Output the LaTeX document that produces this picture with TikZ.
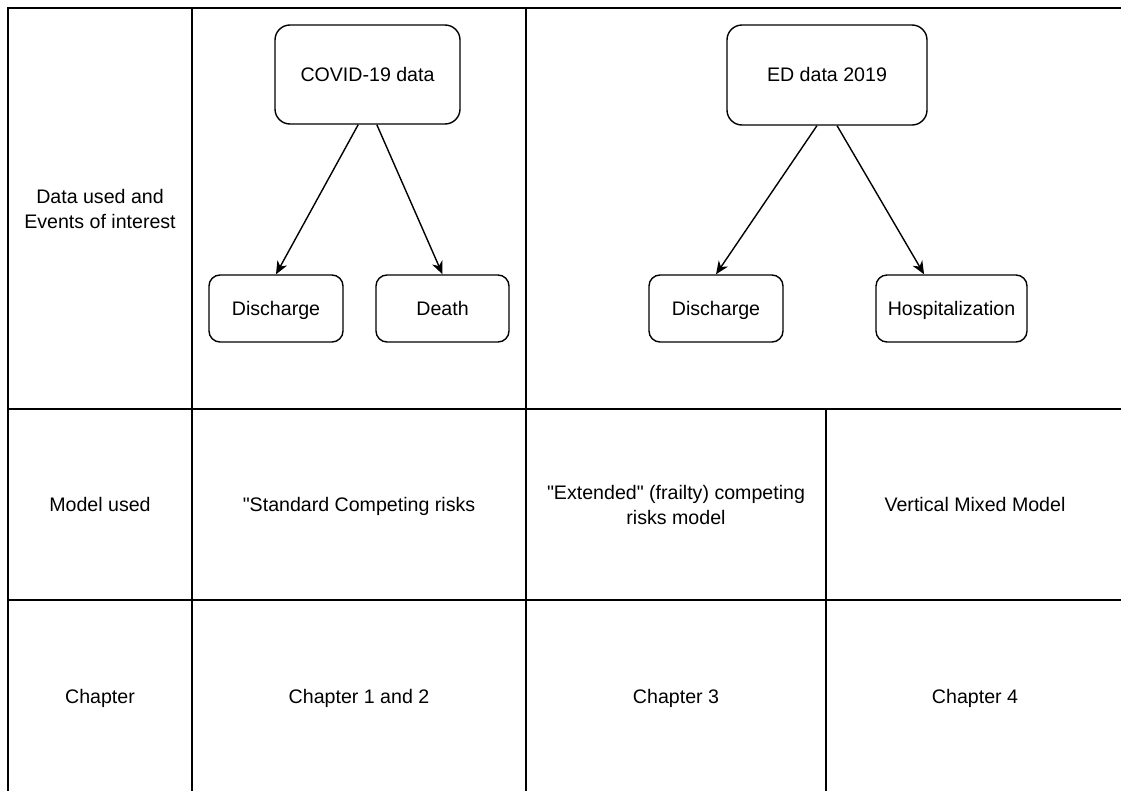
\documentclass[tikz,border=0pt]{standalone}
\usepackage{fontspec}
\setmainfont{Liberation Sans}[Ligatures=TeXOff]
\usetikzlibrary{arrows.meta,calc}
\begin{document}
\begin{tikzpicture}[x=1pt,y=-1pt,
  gridline/.style={line width=1.5pt, line cap=rect},
  lbl/.style={align=center, inner sep=0pt, font=\fontsize{19.6}{25}\selectfont},
  one/.style={text height=17.7pt, text depth=4.2pt},
  bigbox/.style={lbl, one, draw, line width=1.4pt, rounded corners=15pt},
  smallbox/.style={lbl, one, draw, line width=1.4pt, rounded corners=11pt, minimum height=67pt},
  conn/.style={line width=1.4pt, -{Stealth[length=13pt,width=11pt,inset=4pt]}}]
\useasboundingbox (0,0) rectangle (1121,790);
% table grid
\draw[gridline] (1125,8) -- (8,8) -- (8,795);
\draw[gridline] (8,409) -- (1125,409);
\draw[gridline] (8,600) -- (1125,600);
\draw[gridline] (192,8) -- (192,795);
\draw[gridline] (526,8) -- (526,795);
\draw[gridline] (826,409) -- (826,795);
% row labels
\node[lbl] (rowdata) at (100,208.5) {Data used and\\Events of interest};
\node[lbl, one] (rowmodel) at (100,505) {Model used};
\node[lbl, one] (rowchap) at (100,697) {Chapter};
% top row boxes
\node[bigbox, minimum width=185pt, minimum height=99pt] (covid) at (367.5,74.5) {COVID-19 data};
\node[bigbox, minimum width=200pt, minimum height=100pt] (ed) at (827,75) {ED data 2019};
\node[smallbox, minimum width=134pt] (dis1) at (276,308.5) {Discharge};
\node[smallbox, minimum width=133pt] (death) at (442.5,308.5) {Death};
\node[smallbox, minimum width=134pt] (dis2) at (716,308.5) {Discharge};
\node[smallbox, minimum width=151pt] (hosp) at (951.5,308.5) {Hospitalization};
% connectors
\draw[conn] ($(covid.south west)!0.45!(covid.south east)$) -- (dis1.north);
\draw[conn] ($(covid.south west)!0.55!(covid.south east)$) -- (death.north);
\draw[conn] ($(ed.south west)!0.45!(ed.south east)$) -- (dis2.north);
\draw[conn] ($(ed.south west)!0.55!(ed.south east)$) -- ($(hosp.north west)!0.32!(hosp.north east)$);
% model row
\node[lbl, one] (m1) at (359,505) {"Standard Competing risks};
\node[lbl] (m2) at (676,505) {"Extended" (frailty) competing\\risks model};
\node[lbl, one] (m3) at (975,505) {Vertical Mixed Model};
% chapter row
\node[lbl, one] (c1) at (359,697) {Chapter 1 and 2};
\node[lbl, one] (c2) at (676,697) {Chapter 3};
\node[lbl, one] (c3) at (975,697) {Chapter 4};
\end{tikzpicture}
\end{document}
